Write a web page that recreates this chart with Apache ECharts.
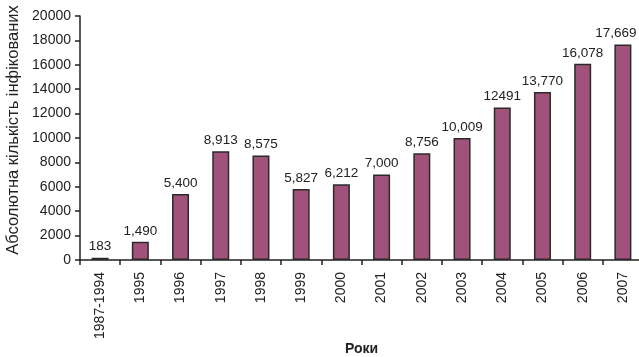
<!DOCTYPE html>
<html><head><meta charset="utf-8">
<script src="https://cdn.jsdelivr.net/npm/echarts@6/dist/echarts.min.js"></script>
<style>html,body{margin:0;padding:0;background:#fff}#c{width:639px;height:357px}</style>
</head><body><div id="c"></div>
<script>
const categories = ['1987-1994','1995','1996','1997','1998','1999','2000','2001','2002','2003','2004','2005','2006','2007'];
const values = [183,1490,5400,8913,8575,5827,6212,7000,8756,10009,12491,13770,16078,17669];
const valueLabels = ['183','1,490','5,400','8,913','8,575','5,827','6,212','7,000','8,756','10,009','12491','13,770','16,078','17,669'];
const yTicks = [0,2000,4000,6000,8000,10000,12000,14000,16000,18000,20000];

const chart = echarts.init(document.getElementById('c'));
const font = 'Liberation Sans, Arial, sans-serif';
const seriesData = values.map((v, i) => i === values.length - 1 ? {value: v, label: {offset: [-7, 0]}} : v);
chart.setOption({
  animation: false,
  grid: {left: 80, right: -4, top: 16, bottom: 97, outerBoundsMode: 'none', containLabel: false},
  xAxis: {
    type: 'category', data: categories,
    name: 'Роки', nameLocation: 'middle', nameGap: 89, nameMoveOverlap: false,
    nameTextStyle: {fontFamily: font, fontSize: 14, fontWeight: 'bold', color: '#222', verticalAlign: 'middle'},
    axisLine: {lineStyle: {color: '#222', width: 1.5}},
    axisTick: {show: true, length: 5, inside: false, lineStyle: {color: '#222', width: 1.5}},
    axisLabel: {rotate: 90, fontFamily: font, fontSize: 14, color: '#222', margin: 12}
  },
  yAxis: {
    type: 'value', min: yTicks[0], max: yTicks[yTicks.length-1], interval: 2000,
    name: 'Абсолютна кількість інфікованих', nameLocation: 'middle', nameGap: 58, nameMoveOverlap: false,
    nameTextStyle: {fontFamily: font, fontSize: 16.5, color: '#222', padding: [0, 0, 0, 16]},
    axisLine: {show: true, lineStyle: {color: '#222', width: 1.5}},
    axisTick: {show: true, length: 5, lineStyle: {color: '#222', width: 1.5}},
    axisLabel: {fontFamily: font, fontSize: 14, color: '#222', margin: 9, formatter: v => String(v)},
    splitLine: {show: false}
  },
  series: [{
    type: 'bar', data: seriesData, barWidth: 17,
    itemStyle: {color: '#A0527A', borderColor: '#2a2a2a', borderWidth: 1.5},
    label: {show: true, position: 'top', distance: 4, fontFamily: font, fontSize: 13.5, color: '#222',
      formatter: p => valueLabels[p.dataIndex]}
  }]
});
</script></body></html>
